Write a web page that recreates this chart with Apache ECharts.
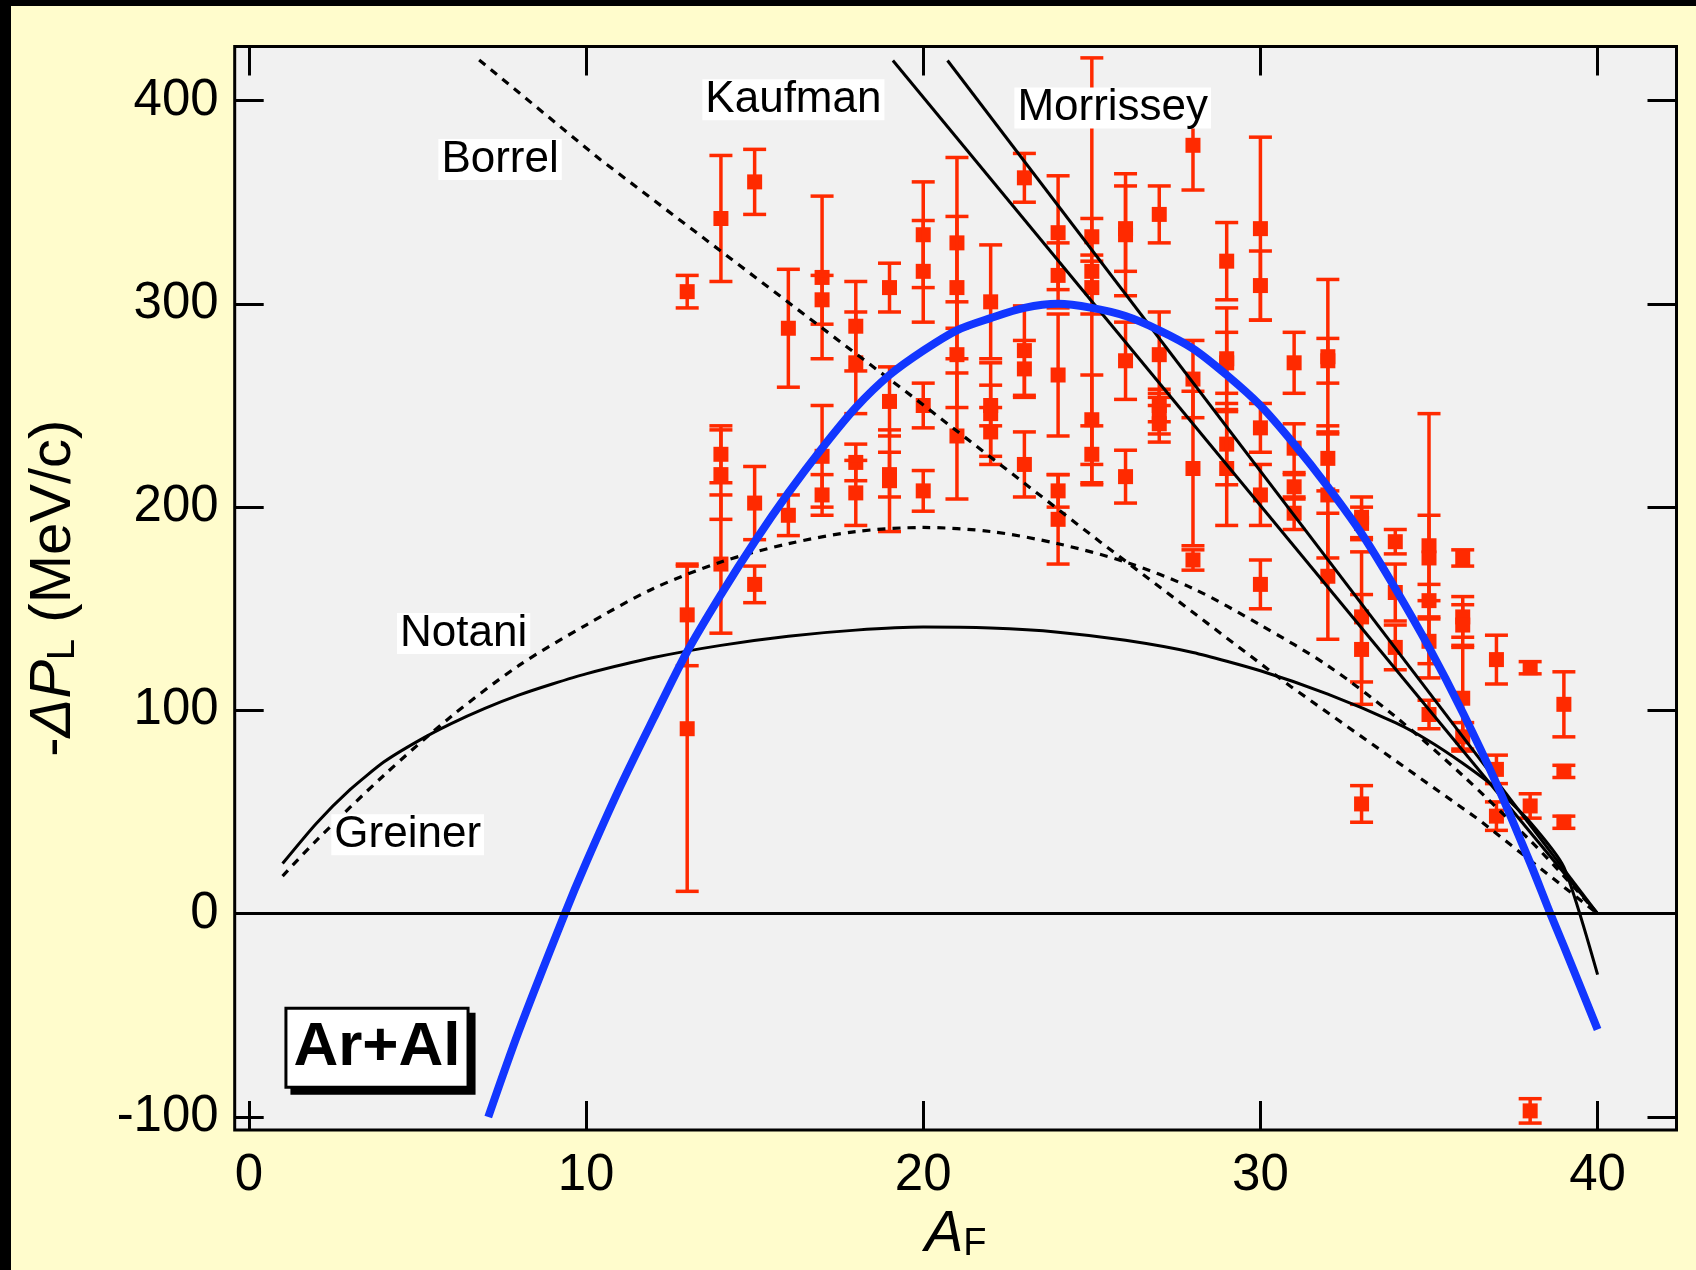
<!DOCTYPE html>
<html><head><meta charset="utf-8">
<script src="https://cdn.jsdelivr.net/npm/echarts@6/dist/echarts.min.js"></script>
<style>html,body{margin:0;padding:0;background:#000;}#c{width:1696px;height:1270px;}</style>
</head><body><div id="c"></div>
<script>
// ---- experimental points: fragment mass, -dP_L, error half-width ----
const expA = [13,13,13, 14,14,14,14, 15,15,15, 16,16, 17,17,17,17, 18,18,18,18, 19,19,19,19, 20,20,20,20, 21,21,21,21, 22,22,22,22, 23,23,23,23, 24,24,24,24,24, 25,25,25,25,25, 26,26,26,26, 27,27,27,27,27, 28,28,28,28, 29,29,29,29,29, 30,30,30,30,30, 31,31,31,31, 32,32,32,32,32, 33,33,33,33,33, 34,34,34, 35,35,35,35,35, 36,36,36,36,36, 37,37,37, 38,38,38, 39,39,39];
const expP = [306,147,91, 342,226,216,172, 360,202,162, 288,196, 313,302,225,206, 289,271,222,207, 308,252,216,213, 334,316,250,208, 330,308,275,235, 301,250,246,237, 362,277,268,221, 335,314,265,208,194, 333,316,308,243,226, 337,334,272,215, 344,275,250,246,241, 378,263,219,174, 321,273,271,231,219, 337,309,239,206,162, 271,229,210,197, 274,272,224,206,166, 195,192,146,130,54, 183,158,131, 181,175,154,134,98, 175,146,142,106,87, 125,71,48, 121,53,-97, 103,70,45];
const expErr = [8,25,80, 31,14,22,34, 16,18,9, 29,10, 40,12,25,10, 22,25,9,16, 12,17,11,25, 26,25,11,10, 42,35,26,31, 28,10,25,12, 12,22,14,16, 28,16,30,8,22, 9,105,13,22,14, 21,30,19,13, 14,21,8,10,9, 22,19,38,5, 19,25,15,20,28, 45,17,12,15,12, 15,12,6,8, 38,11,16,31,31, 10,8,32,27,9, 6,14,11, 65,21,8,11,7, 4,10,10,25,7, 12,7,7, 3,6,6, 16,3,3];

// ---- blue fit curve ----
const fitA = [7.1, 8, 9.37, 10, 11, 12, 13, 14, 15, 16, 17, 18, 19, 20, 21, 22, 23, 24, 25, 26, 27, 28, 29, 30, 31, 32, 33, 34, 35, 36, 37, 38, 38.6, 39, 40];
const fitP = [-100, -58, 0, 25, 62, 96, 129, 157, 183, 207, 229, 249, 265, 277, 287, 293, 298, 300, 298, 294, 287, 278, 265, 250, 231, 210, 187, 160, 131, 99, 64, 25, 0, -16, -57];

// ---- model curves ----
const borrelA = [6.83, 10.42, 19.71, 25.24, 30.88, 36.5, 40];
const borrelP = [420, 371, 254, 183, 112, 46, 0];
const notaniA = [1, 2, 4, 6, 8, 10, 12, 14, 16, 18, 20, 22, 24, 26, 28, 30, 32, 34, 36, 38, 39, 40];
const notaniP = [18.5, 36, 68, 97, 122, 142, 160, 173, 182, 188, 190, 188, 182, 173, 160, 142, 122, 97, 68, 36, 18.5, 0];
const greinerA = [1, 2, 3, 4, 5, 6, 7, 8, 9, 10, 12, 14, 16, 18, 20, 22, 24, 26, 28, 30, 32, 34, 35, 36, 37, 38, 39, 40];
const greinerP = [24.7, 44.4, 61, 74.6, 84.8, 93.5, 101, 107.5, 113, 118, 126, 132, 136.5, 139.5, 141, 140.5, 138.5, 134.5, 128.5, 119.5, 108, 94, 85, 74, 61.5, 45, 22.9, -30];
const kaufmanA = [19.1, 40];
const kaufmanP = [419.7, 0];
const morrisseyA = [20.72, 40];
const morrisseyP = [419.7, 0];

// ---- annotations ----
const noteText = ['Kaufman', 'Morrissey', 'Borrel', 'Notani', 'Greiner'];
const noteA = [16.15, 25.62, 7.45, 6.37, 4.71];
const noteP = [400.4, 396.4, 371, 137.8, 38.8];
const systemText = ['Ar+Al'];
const systemA = [3.8];
const systemP = [-66];

// ---- axes ----
const xTicks = [0, 10, 20, 30, 40];
const yTicks = [-100, 0, 100, 200, 300, 400];
const X_MIN = -0.42, X_MAX = 42.34, Y_MIN = -106.4, Y_MAX = 426.6;

const FONT = '"Liberation Sans", Arial, Helvetica, sans-serif';
const RED = '#FF2A00';
const BLUE = '#1236FF';
const zip = (a, b) => a.map((v, i) => [v, b[i]]);

const tickStyle = { inside: true, length: 29, lineStyle: { color: '#000', width: 3 } };

const chart = echarts.init(document.getElementById('c'), null, { renderer: 'canvas' });
chart.setOption({
  animation: false,
  backgroundColor: '#FFFCCC',
  textStyle: { fontFamily: FONT },
  graphic: [
    { type: 'rect', shape: { x: 0, y: 0, width: 1696, height: 6 }, style: { fill: '#000' }, z: 100 },
    { type: 'rect', shape: { x: 0, y: 0, width: 11, height: 1270 }, style: { fill: '#000' }, z: 100 }
  ],
  grid: {
    left: 234.7, right: 19.5, top: 46.5, bottom: 140,
    show: true, backgroundColor: '#F1F1F1', borderColor: '#000', borderWidth: 3
  },
  xAxis: [{
    type: 'value', min: X_MIN, max: X_MAX, position: 'bottom',
    axisLine: { show: false, onZero: false },
    axisTick: Object.assign({ customValues: xTicks }, tickStyle),
    axisLabel: { customValues: xTicks, fontSize: 51, color: '#000', fontFamily: FONT, margin: 20 },
    splitLine: { show: false },
    name: '{i|A}{s|F}', nameLocation: 'middle', nameGap: 72,
    nameTextStyle: {
      rich: {
        i: { fontSize: 58, fontStyle: 'italic', fontFamily: FONT, color: '#000', lineHeight: 58 },
        s: { fontSize: 38, fontFamily: FONT, color: '#000', lineHeight: 30, verticalAlign: 'bottom' }
      }
    }
  }, {
    type: 'value', min: X_MIN, max: X_MAX, position: 'top',
    axisLine: { show: false, onZero: false },
    axisTick: Object.assign({ customValues: xTicks }, tickStyle),
    axisLabel: { show: false }, splitLine: { show: false }
  }],
  yAxis: [{
    type: 'value', min: Y_MIN, max: Y_MAX, position: 'left',
    axisLine: { show: false, onZero: false },
    axisTick: Object.assign({ customValues: yTicks }, tickStyle),
    axisLabel: { customValues: yTicks, fontSize: 51, color: '#000', fontFamily: FONT, margin: 16 },
    splitLine: { show: false },
    name: '{n|-}{i|ΔP}{s|L}{n| (MeV/c)}', nameLocation: 'middle', nameGap: 152,
    nameTextStyle: {
      rich: {
        n: { fontSize: 58, fontFamily: FONT, color: '#000', lineHeight: 58 },
        i: { fontSize: 58, fontStyle: 'italic', fontFamily: FONT, color: '#000', lineHeight: 58 },
        s: { fontSize: 38, fontFamily: FONT, color: '#000', lineHeight: 22, verticalAlign: 'bottom' }
      }
    }
  }, {
    type: 'value', min: Y_MIN, max: Y_MAX, position: 'right',
    axisLine: { show: false, onZero: false },
    axisTick: Object.assign({ customValues: yTicks }, tickStyle),
    axisLabel: { show: false }, splitLine: { show: false }
  }],
  series: [
    {
      type: 'custom', name: 'data', z: 2,
      data: expA.map((a, i) => [a, expP[i], expErr[i]]),
      encode: { x: 0, y: 1 },
      renderItem: function (params, api) {
        const x = api.value(0), y = api.value(1), e = api.value(2);
        const c = api.coord([x, y]);
        const t = api.coord([x, y + e]);
        const b = api.coord([x, y - e]);
        const cw = 11.5, ms = 15;
        const st = { stroke: RED, lineWidth: 3.5 };
        return {
          type: 'group', children: [
            { type: 'line', shape: { x1: c[0], y1: t[1], x2: c[0], y2: b[1] }, style: st },
            { type: 'line', shape: { x1: c[0] - cw, y1: t[1], x2: c[0] + cw, y2: t[1] }, style: st },
            { type: 'line', shape: { x1: c[0] - cw, y1: b[1], x2: c[0] + cw, y2: b[1] }, style: st },
            { type: 'rect', shape: { x: c[0] - ms / 2, y: c[1] - ms / 2, width: ms, height: ms }, style: { fill: RED } }
          ]
        };
      }
    },
    {
      type: 'line', name: 'Borrel', z: 3, symbol: 'none', data: zip(borrelA, borrelP),
      lineStyle: { color: '#000', width: 3.2, type: [8, 7] }
    },
    {
      type: 'line', name: 'Notani', z: 3, symbol: 'none', smooth: 0.3, data: zip(notaniA, notaniP),
      lineStyle: { color: '#000', width: 3.2, type: [8, 7] }
    },
    {
      type: 'line', name: 'Greiner', z: 3, symbol: 'none', smooth: 0.2, data: zip(greinerA, greinerP),
      lineStyle: { color: '#000', width: 3 },
      markLine: {
        silent: true, symbol: 'none', label: { show: false },
        lineStyle: { color: '#000', width: 3, type: 'solid' },
        data: [{ yAxis: 0 }]
      }
    },
    {
      type: 'line', name: 'Kaufman', z: 3, symbol: 'none', data: zip(kaufmanA, kaufmanP),
      lineStyle: { color: '#000', width: 3 }
    },
    {
      type: 'line', name: 'Morrissey', z: 3, symbol: 'none', data: zip(morrisseyA, morrisseyP),
      lineStyle: { color: '#000', width: 3 }
    },
    {
      type: 'line', name: 'fit', z: 4, symbol: 'none', smooth: 0.3, data: zip(fitA, fitP),
      lineStyle: { color: BLUE, width: 8 }
    },
    {
      type: 'scatter', name: 'notes', z: 5, symbolSize: 1,
      itemStyle: { color: 'transparent', opacity: 1 },
      data: noteText.map((t, i) => ({ name: t, value: [noteA[i], noteP[i]] })),
      label: {
        show: true, position: 'inside', formatter: '{b}', color: '#000', opacity: 1,
        fontSize: 44, fontFamily: FONT, lineHeight: 41,
        backgroundColor: '#fff', padding: [0, 3]
      }
    },
    {
      type: 'scatter', name: 'system', z: 6, symbolSize: 1,
      itemStyle: { color: 'transparent', opacity: 1 },
      data: systemText.map((t, i) => ({ name: t, value: [systemA[i], systemP[i]] })),
      label: {
        show: true, position: 'inside', formatter: '{b}', color: '#000', opacity: 1,
        fontSize: 62, fontWeight: 'bold', fontFamily: FONT, lineHeight: 62,
        backgroundColor: '#fff', borderColor: '#000', borderWidth: 3,
        padding: [7, 6],
        shadowColor: '#000', shadowBlur: 0, shadowOffsetX: 6, shadowOffsetY: 6
      }
    }
  ]
});
</script>
</body></html>
